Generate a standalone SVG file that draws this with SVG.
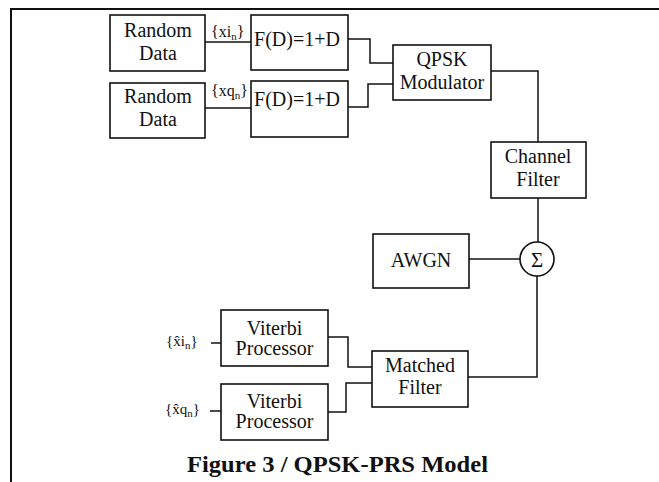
<svg xmlns="http://www.w3.org/2000/svg" width="659" height="482" viewBox="0 0 659 482">
  <style>
    .box { fill: #fff; stroke: #111; stroke-width: 1.6; }
    .wire { fill: none; stroke: #111; stroke-width: 1.5; }
    .frame { fill: none; stroke: #111; stroke-width: 2; }
    text { font-family: "Liberation Serif", "Times New Roman", serif; fill: #111; }
    .lbl { font-size: 20px; text-anchor: middle; }
    .sig { font-size: 16px; }
    .sub { font-size: 11px; }
    .title { font-size: 24px; font-weight: bold; }
  </style>

  <!-- page frame -->
  <path class="frame" d="M11,482 V9 H659"/>

  <!-- connectors -->
  <g id="connectors">
    <path class="wire" d="M205,42 H251"/>
    <path class="wire" d="M205,108 H251"/>
    <path class="wire" d="M348,39 H370 V63 H393"/>
    <path class="wire" d="M348,107 H368 V84 H393"/>
    <path class="wire" d="M491,71 H538 V142"/>
    <path class="wire" d="M538,198 V242"/>
    <path class="wire" d="M469,259 H520"/>
    <path class="wire" d="M537,276 V377 H468"/>
    <path class="wire" d="M328,337 H348 V367 H372"/>
    <path class="wire" d="M328,412 H346 V383 H372"/>
    <path class="wire" d="M211,343 H221"/>
    <path class="wire" d="M210,411 H221"/>
  </g>

  <!-- transmitter -->
  <g id="random-data-i">
    <rect class="box" x="110" y="15" width="95" height="56"/>
    <text class="lbl" x="158" y="37">Random</text>
    <text class="lbl" x="158" y="60">Data</text>
  </g>
  <g id="random-data-q">
    <rect class="box" x="110" y="83" width="95" height="55"/>
    <text class="lbl" x="158" y="103">Random</text>
    <text class="lbl" x="158" y="126">Data</text>
  </g>
  <g id="label-xi">
    <text class="sig" x="211" y="37">{xi<tspan class="sub" dy="3">n</tspan><tspan dy="-3">}</tspan></text>
  </g>
  <g id="label-xq">
    <text class="sig" x="211" y="96">{xq<tspan class="sub" dy="3">n</tspan><tspan dy="-3">}</tspan></text>
  </g>
  <g id="prs-i">
    <rect class="box" x="251" y="15" width="97" height="55"/>
    <text class="lbl" x="297" y="46">F(D)=1+D</text>
  </g>
  <g id="prs-q">
    <rect class="box" x="251" y="81" width="97" height="56"/>
    <text class="lbl" x="297" y="106">F(D)=1+D</text>
  </g>
  <g id="qpsk-modulator">
    <rect class="box" x="393" y="45" width="98" height="55"/>
    <text class="lbl" x="442" y="66">QPSK</text>
    <text class="lbl" x="442" y="89">Modulator</text>
  </g>

  <!-- channel -->
  <g id="channel-filter">
    <rect class="box" x="491" y="142" width="95" height="56"/>
    <text class="lbl" x="538" y="163">Channel</text>
    <text class="lbl" x="538" y="186">Filter</text>
  </g>
  <g id="awgn">
    <rect class="box" x="373" y="234" width="96" height="54"/>
    <text class="lbl" x="421" y="267">AWGN</text>
  </g>
  <g id="summer">
    <circle class="box" cx="537" cy="259" r="17"/>
    <text class="lbl" x="537" y="266.5" style="font-size:21px">Σ</text>
  </g>

  <!-- receiver -->
  <g id="matched-filter">
    <rect class="box" x="372" y="351" width="96" height="56"/>
    <text class="lbl" x="420" y="372">Matched</text>
    <text class="lbl" x="420" y="394">Filter</text>
  </g>
  <g id="viterbi-i">
    <rect class="box" x="221" y="310" width="107" height="56"/>
    <text class="lbl" x="274.5" y="335">Viterbi</text>
    <text class="lbl" x="274.5" y="355">Processor</text>
  </g>
  <g id="viterbi-q">
    <rect class="box" x="221" y="384" width="107" height="56"/>
    <text class="lbl" x="274.5" y="408">Viterbi</text>
    <text class="lbl" x="274.5" y="428">Processor</text>
  </g>
  <g id="label-xi-hat">
    <text class="sig" x="166" y="346" style="font-size:15px">{x̂i<tspan class="sub" dy="3">n</tspan><tspan dy="-3">}</tspan></text>
  </g>
  <g id="label-xq-hat">
    <text class="sig" x="165" y="414" style="font-size:15px">{x̂q<tspan class="sub" dy="3">n</tspan><tspan dy="-3">}</tspan></text>
  </g>

  <text class="title" x="187" y="472" textLength="301" lengthAdjust="spacingAndGlyphs">Figure 3 / QPSK-PRS Model</text>
</svg>
